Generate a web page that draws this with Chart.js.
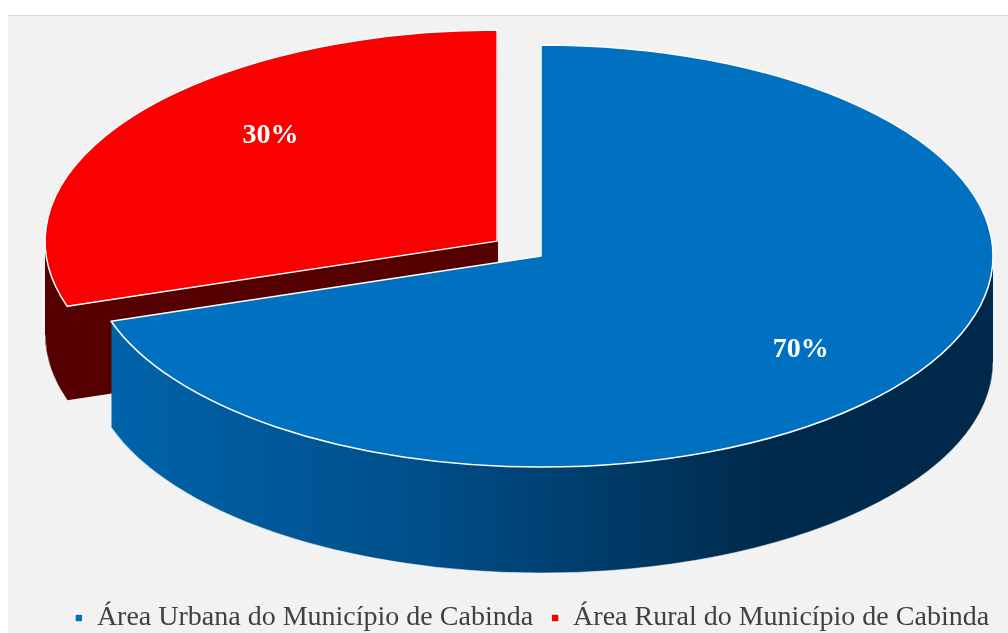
<!DOCTYPE html>
<html>
<head>
<meta charset="utf-8">
<script src="https://cdn.jsdelivr.net/npm/chart.js@4.4.1/dist/chart.umd.min.js"></script>
<style>
html, body { margin: 0; padding: 0; background: #ffffff; overflow: hidden; }
#panel { position: absolute; left: 8px; top: 15px; width: 1000px; height: 618px; background: #f2f2f2; border-top: 1px solid #dadada; }
#wrap { position: absolute; left: 0; top: 0; width: 1008px; height: 633px; }
</style>
</head>
<body>
<div id="panel"></div>
<div id="wrap"><canvas id="areas"></canvas></div>
<script>
// Values.
var areaLabels = [ 'Área Urbana do Município de Cabinda', 'Área Rural do Município de Cabinda' ];
var areaShares = [ 70, 30 ];

// Move the context so that slice i lands on the flattened, exploded pie.
function placeSlice( ctx, arc, opts, i, depth ) {
	var r   = arc.outerRadius;
	var mid = ( arc.startAngle + arc.endAngle ) / 2;
	var e   = opts.explode[ i ] || 0;
	var tx  = opts.cx + Math.cos( mid ) * e * opts.rx;
	var ty  = opts.cy + Math.sin( mid ) * e * opts.ry + depth;

	ctx.translate( tx, ty );
	ctx.scale( opts.rx / r, opts.ry / r );
	ctx.translate( -arc.x, -arc.y );
	return { tx: tx, ty: ty, mid: mid };
}

// Side colour: plain string or a list of [screen x, colour] stops.
function sideFill( ctx, arc, opts, i, tx ) {
	var spec = opts.sideColors[ i ];
	if ( typeof spec === 'string' ) {
		return spec;
	}
	var k  = arc.outerRadius / opts.rx;
	var x0 = spec[ 0 ][ 0 ];
	var x1 = spec[ spec.length - 1 ][ 0 ];
	var g  = ctx.createLinearGradient( arc.x + ( x0 - tx ) * k, 0, arc.x + ( x1 - tx ) * k, 0 );
	spec.forEach( function ( s ) {
		g.addColorStop( ( s[ 0 ] - x0 ) / ( x1 - x0 ), s[ 1 ] );
	} );
	return g;
}

function fillArc( ctx, arc, fill ) {
	var orig    = arc.options;
	arc.options = Object.assign( {}, orig, { backgroundColor: fill, borderWidth: 0, offset: 0 } );
	arc.draw( ctx );
	arc.options = orig;
}

// Build the path under the pie transform, stroke it in screen space.
function outlineArc( ctx, arc, opts, i, depth, color, width, rimOnly ) {
	var a0 = arc.startAngle;
	var a1 = arc.endAngle;
	if ( rimOnly ) {
		// only the front half of the bottom rim can be seen
		a0 = Math.max( a0, 0 );
		a1 = Math.min( a1, Math.PI );
		if ( a1 <= a0 ) {
			return;
		}
	}
	ctx.save();
	placeSlice( ctx, arc, opts, i, depth );
	ctx.beginPath();
	if ( rimOnly ) {
		ctx.arc( arc.x, arc.y, arc.outerRadius, a0, a1 );
	} else {
		ctx.moveTo( arc.x, arc.y );
		ctx.arc( arc.x, arc.y, arc.outerRadius, a0, a1 );
		ctx.closePath();
	}
	ctx.restore();
	ctx.save();
	ctx.lineWidth   = width;
	ctx.strokeStyle = color;
	ctx.lineJoin    = 'round';
	ctx.stroke();
	ctx.restore();
}

var pie3d = {
	id: 'pie3d',
	beforeDatasetsDraw: function ( chart, args, opts ) {
		var ctx   = chart.ctx;
		var arcs  = chart.getDatasetMeta( 0 ).data;
		var order = [ 1, 0 ]; // back slice first
		var total = areaShares.reduce( function ( a, b ) { return a + b; }, 0 );

		// sides
		order.forEach( function ( i ) {
			var arc   = arcs[ i ];
			var depth = opts.depth[ i ];
			ctx.save();
			var p    = placeSlice( ctx, arc, opts, i, 0 );
			var fill = sideFill( ctx, arc, opts, i, p.tx );
			ctx.restore();
			for ( var d = depth; d >= 1; d-- ) {
				ctx.save();
				placeSlice( ctx, arc, opts, i, d );
				fillArc( ctx, arc, fill );
				ctx.restore();
			}
			outlineArc( ctx, arc, opts, i, depth, 'rgba(255,255,255,0.5)', 1, true );
		} );

		// tops
		order.forEach( function ( i ) {
			var arc = arcs[ i ];
			ctx.save();
			placeSlice( ctx, arc, opts, i, 0 );
			fillArc( ctx, arc, arc.options.backgroundColor );
			ctx.restore();
			outlineArc( ctx, arc, opts, i, 0, '#ffffff', 1.5, false );
		} );

		// percentage labels
		ctx.save();
		ctx.font         = 'bold 28px "Liberation Serif", "Times New Roman", serif';
		ctx.fillStyle    = '#ffffff';
		ctx.textAlign    = 'center';
		ctx.textBaseline = 'middle';
		arcs.forEach( function ( arc, i ) {
			ctx.save();
			var p = placeSlice( ctx, arc, opts, i, 0 );
			ctx.restore();
			var f = opts.labelRadius[ i ];
			var x = p.tx + Math.cos( p.mid ) * f * opts.rx;
			var y = p.ty + Math.sin( p.mid ) * f * opts.ry + opts.labelLift[ i ];
			ctx.fillText( Math.round( areaShares[ i ] / total * 100 ) + '%', x, y );
		} );
		ctx.restore();

		return false;
	},
};

new Chart( document.getElementById( 'areas' ), {
	type: 'pie',
	data: {
		labels: areaLabels,
		datasets: [
			{
				data: areaShares,
				backgroundColor: [ '#0070C0', '#FA0000' ],
				borderColor: '#ffffff',
				borderWidth: 1.5,
			},
		],
	},
	plugins: [ pie3d ],
	options: {
		responsive: true,
		maintainAspectRatio: false,
		animation: false,
		layout: {
			padding: { left: 56, right: 0, top: 0, bottom: -9 },
		},
		plugins: {
			tooltip: { enabled: false },
			legend: {
				position: 'bottom',
				labels: {
					usePointStyle: true,
					pointStyle: 'rect',
					boxWidth: 8,
					boxHeight: 8,
					padding: 18,
					color: '#404040',
					font: { family: '"Liberation Serif", "Times New Roman", serif', size: 28 },
				},
			},
			pie3d: {
				cx: 541,
				cy: 256,
				rx: 452,
				ry: 211,
				depth: [ 106, 94 ],
				explode: [ 0, 0.12 ],
				labelRadius: [ 0.71, 0.62 ],
				labelLift: [ 6, -28 ],
				sideColors: [
					[ [ 95, '#0064AC' ], [ 420, '#004F8A' ], [ 760, '#002B4D' ], [ 995, '#00284A' ] ],
					'#560000',
				],
			},
		},
	},
} );
</script>
</body>
</html>
